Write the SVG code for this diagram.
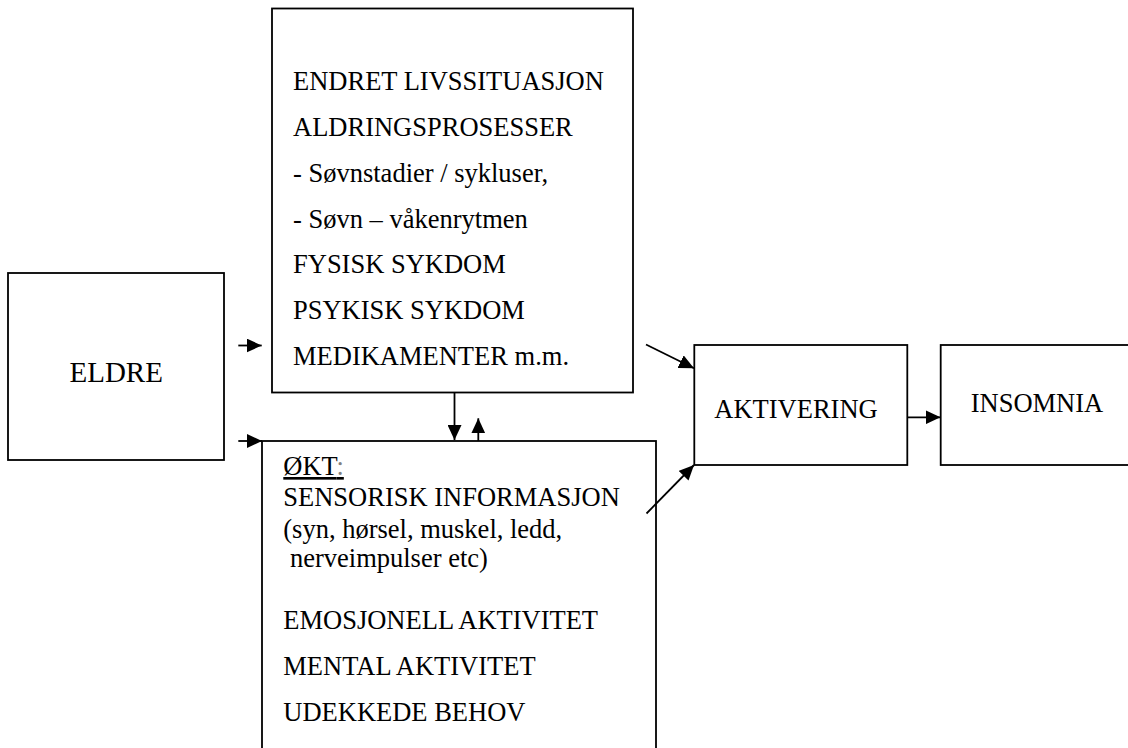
<svg xmlns="http://www.w3.org/2000/svg" width="1128" height="748" viewBox="0 0 1128 748">
  <style>
    .box { fill: #fff; stroke: #000; stroke-width: 1.8; }
    .t { font-size: 26.5px; fill: #000; }
    .big { font-size: 29px; }
    .edge { stroke: #000; stroke-width: 1.8; fill: none; marker-end: url(#arrow); }
  </style>
  <defs>
    <marker id="arrow" markerUnits="userSpaceOnUse" viewBox="0 0 15 14" markerWidth="15" markerHeight="14" refX="15" refY="7" orient="auto">
      <path d="M0,0 L15,7 L0,14 z" fill="#000"/>
    </marker>
  </defs>
  <rect width="1128" height="748" fill="#fff"/>

  <g font-family="Liberation Serif, DejaVu Serif, serif">
    <g id="eldre">
      <rect class="box" x="8" y="273" width="216" height="187"/>
      <text class="t big" x="69.5" y="381.7">ELDRE</text>
    </g>

    <g id="faktorer">
      <rect class="box" x="272" y="8.5" width="361" height="384"/>
      <text class="t" x="293" y="90">ENDRET LIVSSITUASJON</text>
      <text class="t" x="293" y="136">ALDRINGSPROSESSER</text>
      <text class="t" x="293" y="181.7">- Søvnstadier / sykluser,</text>
      <text class="t" x="293" y="227.7">- Søvn – våkenrytmen</text>
      <text class="t" x="293" y="273.3">FYSISK SYKDOM</text>
      <text class="t" x="293" y="319.3">PSYKISK SYKDOM</text>
      <text class="t" x="293" y="365">MEDIKAMENTER m.m.</text>
    </g>

    <g id="okt">
      <rect class="box" x="262" y="441" width="394" height="330"/>
      <text class="t" x="283.3" y="475" text-decoration="underline">ØKT<tspan fill="#808080">:</tspan></text>
      <text class="t" x="283.3" y="505.7">SENSORISK INFORMASJON</text>
      <text class="t" x="283.3" y="537.7">(syn, hørsel, muskel, ledd,</text>
      <text class="t" x="283.3" y="566.7" xml:space="preserve"> nerveimpulser etc)</text>
      <text class="t" x="283.3" y="629.3">EMOSJONELL AKTIVITET</text>
      <text class="t" x="283.3" y="675">MENTAL AKTIVITET</text>
      <text class="t" x="283.3" y="721">UDEKKEDE BEHOV</text>
    </g>

    <g id="aktivering">
      <rect class="box" x="694.3" y="345" width="213" height="120"/>
      <text class="t" x="714.3" y="417.7">AKTIVERING</text>
    </g>

    <g id="insomnia">
      <rect class="box" x="940.7" y="345" width="200" height="120"/>
      <text class="t" x="970.7" y="411.7">INSOMNIA</text>
    </g>
  </g>

  <g id="connectors">
    <line class="edge" x1="238.3" y1="345.5" x2="261.7" y2="345.5"/>
    <line class="edge" x1="238.3" y1="441" x2="262" y2="441"/>
    <line class="edge" x1="454.5" y1="392.5" x2="454.5" y2="440"/>
    <line class="edge" x1="478.3" y1="441" x2="478.3" y2="418.3"/>
    <line class="edge" x1="646" y1="344.5" x2="694" y2="368.3"/>
    <line class="edge" x1="646.5" y1="513.5" x2="694" y2="465"/>
    <line class="edge" x1="907.3" y1="417.3" x2="940.5" y2="417.3"/>
  </g>
</svg>
